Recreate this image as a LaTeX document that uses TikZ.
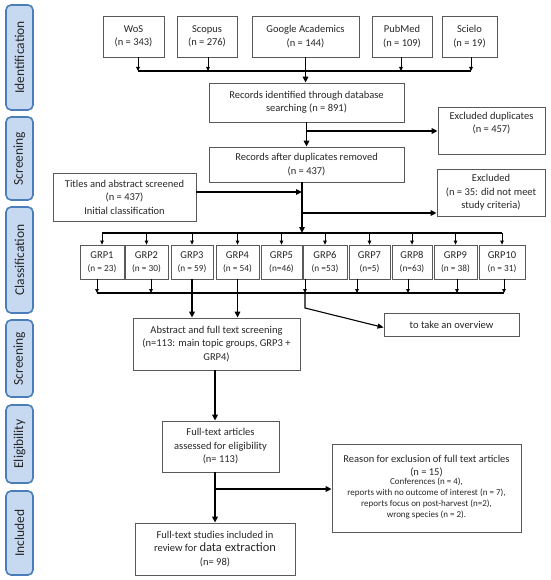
\documentclass[tikz,border=0pt]{standalone}
\usepackage{fontspec}
\setmainfont{Carlito}
\usetikzlibrary{arrows.meta}
\definecolor{sidefill}{HTML}{C6D9F1}
\definecolor{sidedraw}{HTML}{4A7DBA}
\definecolor{boxline}{HTML}{595959}
\definecolor{txt}{HTML}{262626}
\newcommand\smallf{\fontsize{9}{11}\selectfont}
\newcommand\grpf{\fontsize{9.3}{10}\selectfont}
\begin{document}
\begin{tikzpicture}[x=1pt,y=-1pt,
  box/.style={draw=boxline,line width=0.8pt,align=center,text=txt,inner sep=1pt,
    font=\fontsize{10.5}{13.5}\selectfont},
  grp/.style={box,minimum height=34pt},
  side/.style={draw=sidedraw,fill=sidefill,line width=1.6pt,rounded corners=5pt,
    rotate=90,minimum height=27pt,text=txt,font=\fontsize{13.5}{15}\selectfont},
  arrs/.style={-{Triangle[length=4pt,width=3.6pt]},line width=0.8pt},
  arrthick/.style={-{Triangle[length=6pt,width=5.5pt]},line width=1.4pt},
  bar/.style={line width=1.4pt}
]
\useasboundingbox (0,0) rectangle (550,580);
% side bars
\node[side,minimum width=105pt] (s1) at (19.5,57.5) {Identification};
\node[side,minimum width=83pt] (s2) at (19.5,158.5) {Screening};
\node[side,minimum width=106pt] (s3) at (19.5,260) {Classification};
\node[side,minimum width=77pt] (s4) at (19.5,358.5) {Screening};
\node[side,minimum width=78pt] (s5) at (19.5,444) {Eligibility};
\node[side,minimum width=84pt] (s6) at (19.5,533) {Included};
% databases
\node[box,minimum width=61pt,minimum height=41pt] (wos) at (133.5,36.5) {WoS\\(n = 343)};
\node[box,minimum width=60pt,minimum height=41pt] (scopus) at (207,36.5) {Scopus\\(n = 276)};
\node[box,minimum width=107pt,minimum height=41pt] (google) at (305.5,36.5) {Google Academics\\(n = 144)};
\node[box,minimum width=60pt,minimum height=41pt] (pubmed) at (402,36.5) {PubMed\\(n = 109)};
\node[box,minimum width=55pt,minimum height=41pt] (scielo) at (469.5,36.5) {Scielo\\(n = 19)};
% records
\node[box,minimum width=195pt,minimum height=39pt] (recid) at (306.5,102.5) {Records identified through database\\searching (n = 891)};
\node[box,minimum width=107pt,minimum height=47pt] (exdup) at (491.5,130.5) {};
\node[align=center,text=txt,font=\fontsize{10.5}{13.5}\selectfont,anchor=north,inner sep=0pt] (exdupt) at ([yshift=-5pt]exdup.north) {Excluded duplicates\\(n = 457)};
\node[box,minimum width=195pt,minimum height=35pt] (recafter) at (306.5,164.5) {Records after duplicates removed\\(n = 437)};
\node[box,minimum width=143pt,minimum height=48pt] (titles) at (124.5,197) {Titles and abstract screened\\(n = 437)\\Initial classification};
\node[box,minimum width=108pt,minimum height=47pt] (excl) at (491,192.5) {Excluded\\(n = 35: did not meet\\study criteria)};
% groups
\node[grp,minimum width=44pt] (g1) at (102,262) {GRP1\\[-1pt]{\grpf(n = 23)}};
\node[grp,minimum width=43pt] (g2) at (146.5,262) {GRP2\\[-1pt]{\grpf(n = 30)}};
\node[grp,minimum width=42pt] (g3) at (192,262) {GRP3\\[-1pt]{\grpf(n = 59)}};
\node[grp,minimum width=43pt] (g4) at (237.5,262) {GRP4\\[-1pt]{\grpf(n = 54)}};
\node[grp,minimum width=41pt] (g5) at (281.5,262) {GRP5\\[-1pt]{\grpf(n=46)}};
\node[grp,minimum width=44pt] (g6) at (325,262) {GRP6\\[-1pt]{\grpf(n =53)}};
\node[grp,minimum width=41pt] (g7) at (369.5,262) {GRP7\\[-1pt]{\grpf(n=5)}};
\node[grp,minimum width=40pt] (g8) at (412,262) {GRP8\\[-1pt]{\grpf(n=63)}};
\node[grp,minimum width=43pt] (g9) at (455.5,262) {GRP9\\[-1pt]{\grpf(n = 38)}};
\node[grp,minimum width=46pt] (g10) at (502,262) {GRP10\\[-1pt]{\grpf(n = 31)}};
% lower boxes
\node[box,minimum width=167pt,minimum height=52pt] (abstract) at (216.5,344) {Abstract and full text screening\\(n=113: main topic groups, GRP3 +\\GRP4)};
\node[box,minimum width=135pt,minimum height=23pt] (overview) at (451.5,324.5) {to take an overview};
\node[box,minimum width=117pt,minimum height=51pt] (fulltext) at (220.5,446.5) {Full-text articles\\assessed for eligibility\\(n= 113)};
\node[box,minimum width=189pt,minimum height=88pt] (reason) at (426.5,488) {Reason for exclusion of full text articles\\(n = 15)\\[-1pt]{\smallf\begin{tabular}{@{}c@{}}Conferences (n = 4),\\reports with no outcome of interest (n = 7),\\reports focus on post-harvest (n=2),\\wrong species (n = 2).\end{tabular}}};
\node[box,minimum width=160pt,minimum height=52pt] (included) at (215,549) {Full-text studies included in\\review for {\fontsize{12.5}{14}\selectfont data extraction}\\(n= 98)};
% coordinates
\coordinate (tbW) at (138,71);
\coordinate (tbS) at (208,71);
\coordinate (tbP) at (401,71);
\coordinate (tbE) at (471,71);
\coordinate (br1) at (306.5,131);
\coordinate (v2) at (302,233);
\coordinate (br2) at (302,213);
\coordinate (b1) at (97,293);
\coordinate (b2) at (151,293);
\coordinate (b6) at (305,293);
\coordinate (b7) at (357,293);
\coordinate (b8) at (408,293);
\coordinate (b9) at (457,293);
\coordinate (b10) at (504,293);
\coordinate (v3) at (215,489);
% connectors top
\draw[bar] (tbW) -- (tbE);
\draw[arrs] (wos.south -| tbW) -- (tbW);
\draw[arrs] (scopus.south -| tbS) -- (tbS);
\draw[arrs] (pubmed.south -| tbP) -- (tbP);
\draw[arrs] (scielo.south -| tbE) -- (tbE);
\draw[arrthick] (google.south) -- (google.south |- recid.north);
\draw[arrthick] (recid.south) -- (recid.south |- recafter.north);
\draw[arrthick] (br1) -- (br1 -| exdup.west);
\draw[arrthick] (recafter.south -| v2) -- (v2);
\draw[arrthick] ([yshift=5pt]titles.east) -- ([yshift=5pt]titles.east -| v2);
\draw[arrthick] (br2) -- (br2 -| excl.west);
% group bars
\draw[bar] (g1.north |- v2) -- (g10.north |- v2);
\foreach \i in {1,...,10}{\draw[arrs] (g\i.north |- v2) -- (g\i.north);}
\draw[bar] (b1) -- (b10);
\foreach \i in {1,2,6,7,8,9,10}{\draw[arrs] (g\i.south -| b\i) -- (b\i);}
\draw[arrthick] (g3.south) -- (g3.south |- abstract.north);
\draw[arrthick] (g4.south) -- (g4.south |- abstract.north);
\draw[-{Triangle[length=6pt,width=5pt]},line width=1.1pt] (b6) -- ++(0,15) -- ([yshift=-3pt]overview.west);
% lower connectors
\draw[arrthick] (abstract.south -| v3) -- (fulltext.north -| v3);
\draw[arrthick] (fulltext.south -| v3) -- (included.north -| v3);
\draw[arrthick] (v3) -- (v3 -| reason.west);
\end{tikzpicture}
\end{document}
